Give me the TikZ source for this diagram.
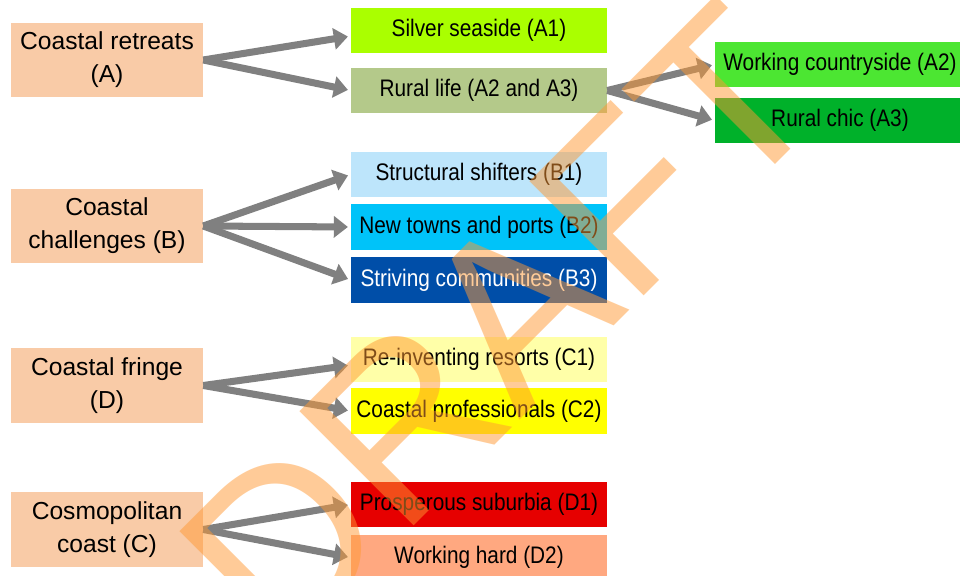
\documentclass[tikz,border=0pt]{standalone}
\usepackage{fontspec}
\setmainfont{Liberation Sans}
\newfontfamily\narrowfont{Liberation Sans}[FakeStretch=0.87]
\usetikzlibrary{arrows.meta}
\definecolor{peach}{HTML}{F9CBA7}
\definecolor{lime}{HTML}{AAFF00}
\definecolor{olive}{HTML}{B4C98A}
\definecolor{brightgreen}{HTML}{4CE632}
\definecolor{chicgreen}{HTML}{00B12A}
\definecolor{paleblue}{HTML}{BDE5FB}
\definecolor{cyanblue}{HTML}{00C3F9}
\definecolor{navy}{HTML}{004EA8}
\definecolor{paleyellow}{HTML}{FFFFA8}
\definecolor{brightyellow}{HTML}{FFFF00}
\definecolor{redbox}{HTML}{E60000}
\definecolor{salmon}{HTML}{FFA880}
\definecolor{graylink}{HTML}{808080}
\definecolor{watermark}{HTML}{FF9933}
\begin{document}
\begin{tikzpicture}[x=0.025cm,y=-0.025cm,
  group/.style={fill=peach,minimum width=4.8cm,minimum height=1.85cm,inner sep=0pt,
    align=center,font=\fontsize{17.5pt}{23.5pt}\selectfont},
  cluster/.style={minimum width=6.4cm,minimum height=1.125cm,inner sep=0pt,
    font=\narrowfont\fontsize{17pt}{20pt}\selectfont},
  subcluster/.style={cluster,minimum width=6.25cm},
  link/.style={draw=graylink,line width=5pt,shorten >=2pt,
    -{Triangle[length=10pt,width=15pt]}}]
\clip (0,0) rectangle (960,576);
\fill[white] (0,0) rectangle (960,576);
% supergroups
\node (retreats) at (107,60) [group] {Coastal retreats\\(A)};
\node (challenges) at (107,226) [group] {Coastal\\challenges (B)};
\node (fringe) at (107,385.5) [group] {Coastal fringe\\(D)};
\node (cosmo) at (107,529.5) [group] {Cosmopolitan\\coast (C)};
% groups
\node (silver) at (479,30.5) [cluster,fill=lime] {Silver seaside (A1)};
\node (rural) at (479,90.5) [cluster,fill=olive] {Rural life (A2 and A3)};
\node (shifters) at (479,174.5) [cluster,fill=paleblue] {Structural shifters (B1)};
\node (newtowns) at (479,227) [cluster,fill=cyanblue] {New towns and ports (B2)};
\node (striving) at (479,280) [cluster,fill=navy,text=white] {Striving communities (B3)};
\node (resorts) at (479,359.5) [cluster,fill=paleyellow] {Re-inventing resorts (C1)};
\node (profs) at (479,411) [cluster,fill=brightyellow] {Coastal professionals (C2)};
\node (suburbia) at (479,504.5) [cluster,fill=redbox] {Prosperous suburbia (D1)};
\node (hard) at (479,557.5) [cluster,fill=salmon] {Working hard (D2)};
% subgroups
\node (countryside) at (840,64.5) [subcluster,fill=brightgreen] {Working countryside (A2)};
\node (chic) at (840,120.5) [subcluster,fill=chicgreen] {Rural chic (A3)};
% links
\draw[link] (retreats.east) -- ([yshift=-4pt]silver.west);
\draw[link] (retreats.east) -- (rural.west);
\draw[link] (challenges.east) -- (shifters.west);
\draw[link] (challenges.east) -- (newtowns.west);
\draw[link] (challenges.east) -- (striving.west);
\draw[link] (fringe.east) -- ([yshift=-4pt]resorts.west);
\draw[link] (fringe.east) -- (profs.west);
\draw[link] (cosmo.east) -- (suburbia.west);
\draw[link] (cosmo.east) -- (hard.west);
\draw[link] (rural.east) -- (countryside.west);
\draw[link] (rural.east) -- (chic.west);
% watermark
\node (draft) at (280,660) [anchor=base west,inner sep=0pt,rotate=45,
  text=watermark,text opacity=0.5,font=\fontsize{167pt}{167pt}\selectfont] {DRAFT};
\end{tikzpicture}
\end{document}
